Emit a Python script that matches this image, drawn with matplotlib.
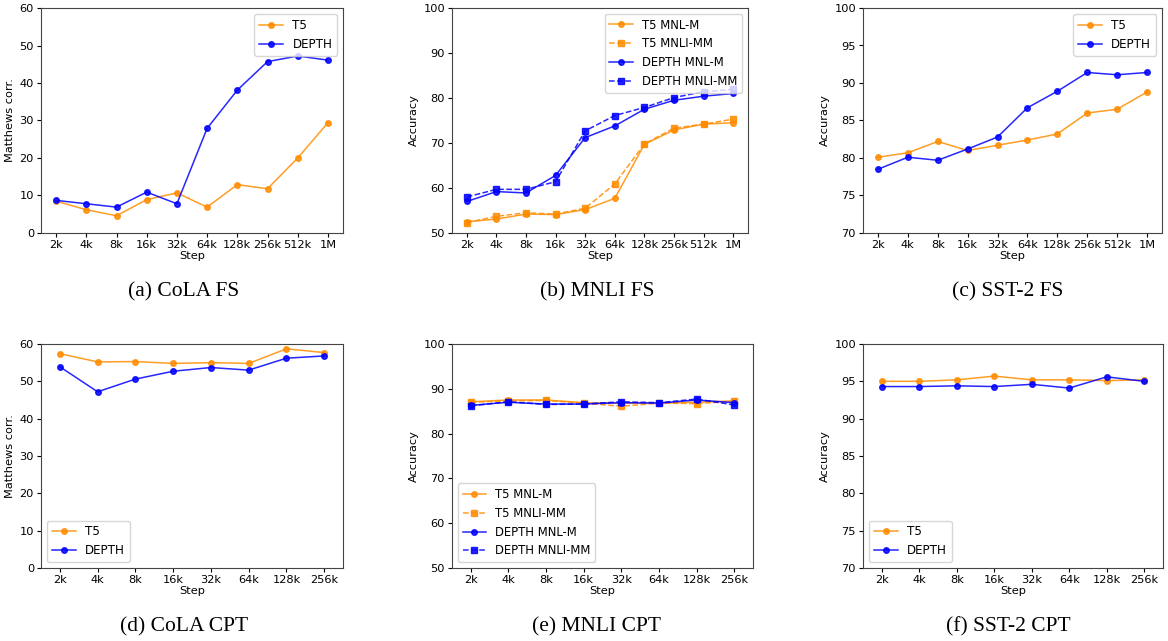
import matplotlib
matplotlib.use("Agg")
import matplotlib.pyplot as plt

# x tick labels
steps_fs = ["2k", "4k", "8k", "16k", "32k", "64k", "128k", "256k", "512k", "1M"]
steps_cpt = ["2k", "4k", "8k", "16k", "32k", "64k", "128k", "256k"]

# (a) CoLA FS
cola_fs_t5 = [8.5, 6.2, 4.6, 8.9, 10.7, 6.9, 12.9, 11.8, 20.0, 29.4]
cola_fs_depth = [8.7, 7.8, 6.9, 10.9, 7.8, 27.9, 38.1, 45.7, 47.2, 46.1]

# (b) MNLI FS
mnli_fs_t5_m = [52.5, 53.1, 54.2, 54.1, 55.2, 57.7, 69.7, 72.9, 74.2, 74.5]
mnli_fs_t5_mm = [52.3, 53.7, 54.5, 54.2, 55.5, 60.9, 69.8, 73.3, 74.2, 75.3]
mnli_fs_depth_m = [57.0, 59.2, 58.9, 62.8, 71.2, 73.8, 77.5, 79.5, 80.4, 81.0]
mnli_fs_depth_mm = [58.0, 59.7, 59.7, 61.4, 72.7, 76.1, 77.9, 80.1, 81.4, 81.9]

# (c) SST-2 FS
sst_fs_t5 = [80.1, 80.7, 82.2, 81.0, 81.7, 82.4, 83.2, 86.0, 86.5, 88.8]
sst_fs_depth = [78.5, 80.1, 79.7, 81.2, 82.8, 86.7, 88.9, 91.4, 91.1, 91.4]

# (d) CoLA CPT
cola_cpt_t5 = [57.4, 55.2, 55.3, 54.8, 55.0, 54.8, 58.7, 57.7]
cola_cpt_depth = [53.9, 47.2, 50.6, 52.7, 53.7, 53.0, 56.2, 56.8]

# (e) MNLI CPT
mnli_cpt_t5_m = [87.1, 87.5, 87.5, 86.9, 86.8, 86.8, 87.0, 87.3]
mnli_cpt_t5_mm = [87.0, 87.3, 87.4, 86.8, 86.1, 86.8, 86.7, 87.2]
mnli_cpt_depth_m = [86.3, 87.0, 86.6, 86.6, 86.9, 86.8, 87.5, 86.9]
mnli_cpt_depth_mm = [86.2, 87.1, 86.5, 86.6, 87.1, 86.9, 87.7, 86.4]

# (f) SST-2 CPT
sst_cpt_t5 = [95.0, 95.0, 95.2, 95.7, 95.2, 95.2, 95.1, 95.2]
sst_cpt_depth = [94.3, 94.3, 94.4, 94.3, 94.6, 94.1, 95.6, 95.0]

ORANGE = "darkorange"
BLUE = "blue"

W, H = 1168, 641
fig = plt.figure(figsize=(W / 100, H / 100), dpi=100)


def make_ax(l, r, t, b):
    return fig.add_axes([l / W, 1 - b / H, (r - l) / W, (b - t) / H])


def style(ax, steps, ylim, yticks, ylabel):
    ax.set_xticks(range(len(steps)))
    ax.set_xticklabels(steps)
    ax.set_xlim(-0.5, len(steps) - 0.5)
    ax.set_ylim(*ylim)
    ax.set_yticks(yticks)
    ax.set_xlabel("Step", fontsize=8.2, labelpad=1)
    ax.set_ylabel(ylabel, fontsize=8.2, labelpad=3)
    ax.tick_params(labelsize=8.2, length=3, pad=2)
    for s in ax.spines.values():
        s.set_color("#444444")


def two_lines(ax, steps, t5, depth, loc):
    x = range(len(steps))
    ax.plot(x, t5, "-o", color=ORANGE, ms=4, lw=1.1, alpha=0.85, label="T5")
    ax.plot(x, depth, "-o", color=BLUE, ms=4, lw=1.1, alpha=0.85, label="DEPTH")
    ax.legend(loc=loc, fontsize=8.6)


def four_lines(ax, steps, t5m, t5mm, dm, dmm, loc):
    x = range(len(steps))
    ax.plot(x, t5m, "-o", color=ORANGE, ms=4, lw=1.1, alpha=0.85, label="T5 MNL-M")
    ax.plot(x, t5mm, "--s", color=ORANGE, ms=4, lw=1.1, alpha=0.85, label="T5 MNLI-MM")
    ax.plot(x, dm, "-o", color=BLUE, ms=4, lw=1.1, alpha=0.85, label="DEPTH MNL-M")
    ax.plot(x, dmm, "--s", color=BLUE, ms=4, lw=1.1, alpha=0.85, label="DEPTH MNLI-MM")
    ax.legend(loc=loc, fontsize=8.4)


# top row
ax = make_ax(41, 343, 8, 233)
two_lines(ax, steps_fs, cola_fs_t5, cola_fs_depth, "upper right")
style(ax, steps_fs, (0, 60), range(0, 61, 10), "Matthews corr.")

ax = make_ax(452, 748, 8, 233)
four_lines(ax, steps_fs, mnli_fs_t5_m, mnli_fs_t5_mm, mnli_fs_depth_m, mnli_fs_depth_mm, "upper right")
style(ax, steps_fs, (50, 100), range(50, 101, 10), "Accuracy")

ax = make_ax(863, 1162, 8, 233)
two_lines(ax, steps_fs, sst_fs_t5, sst_fs_depth, "upper right")
style(ax, steps_fs, (70, 100), range(70, 101, 5), "Accuracy")

# bottom row
ax = make_ax(41, 343, 344, 568)
two_lines(ax, steps_cpt, cola_cpt_t5, cola_cpt_depth, "lower left")
style(ax, steps_cpt, (0, 60), range(0, 61, 10), "Matthews corr.")

ax = make_ax(452, 753, 344, 568)
four_lines(ax, steps_cpt, mnli_cpt_t5_m, mnli_cpt_t5_mm, mnli_cpt_depth_m, mnli_cpt_depth_mm, "lower left")
style(ax, steps_cpt, (50, 100), range(50, 101, 10), "Accuracy")

ax = make_ax(863, 1163, 344, 568)
two_lines(ax, steps_cpt, sst_cpt_t5, sst_cpt_depth, "lower left")
style(ax, steps_cpt, (70, 100), range(70, 101, 5), "Accuracy")

# captions
captions = [("(a) CoLA FS", 184, 292), ("(b) MNLI FS", 597, 292), ("(c) SST-2 FS", 1008, 292),
            ("(d) CoLA CPT", 184, 627), ("(e) MNLI CPT", 597, 627), ("(f) SST-2 CPT", 1008, 627)]
for txt, cx, cy in captions:
    fig.text(cx / W, 1 - cy / H, txt, ha="center", va="center",
             family="Liberation Serif", fontsize=15.5)

fig.savefig("out.png", dpi=100)
